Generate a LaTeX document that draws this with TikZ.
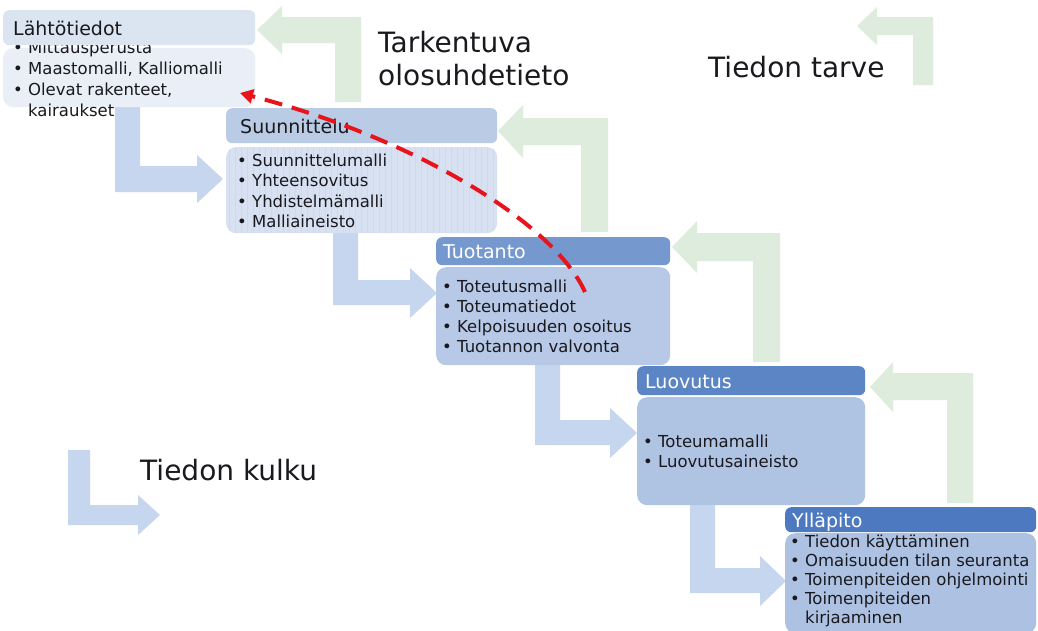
\documentclass[tikz,border=0pt]{standalone}
\usepackage{fontspec}
\setmainfont{DejaVu Sans}
\usetikzlibrary{arrows.meta}
\definecolor{greenarr}{RGB}{221,236,221}
\definecolor{bluearr}{RGB}{198,214,238}
\definecolor{hA}{RGB}{219,228,241}
\definecolor{bA}{RGB}{234,239,247}
\definecolor{hB}{RGB}{186,203,229}
\definecolor{bB}{RGB}{215,225,241}
\definecolor{stripeB}{RGB}{205,217,236}
\definecolor{hC}{RGB}{117,153,206}
\definecolor{bC}{RGB}{183,201,230}
\definecolor{hD}{RGB}{91,133,196}
\definecolor{bD}{RGB}{175,195,227}
\definecolor{hE}{RGB}{76,121,191}
\definecolor{bE}{RGB}{173,194,227}
\definecolor{txtdark}{RGB}{25,25,30}
\definecolor{redline}{RGB}{232,20,28}
\begin{document}
\begin{tikzpicture}[x=1pt,y=-1pt,
  garrow/.style={fill=greenarr,draw=none},
  barrow/.style={fill=bluearr,draw=none},
  hbox/.style={draw=none,rounded corners=6pt,anchor=north west,inner sep=0pt},
  bbox/.style={draw=none,rounded corners=10pt,anchor=north west,inner sep=0pt},
  htxt/.style={anchor=base west,inner sep=0pt,font=\fontsize{19}{22}\selectfont},
  btxt/.style={anchor=base west,inner sep=0pt,text=txtdark,font=\fontsize{16.5}{20}\selectfont},
  bigtxt/.style={anchor=base west,inner sep=0pt,text=txtdark,font=\fontsize{28}{32}\selectfont},
  reddash/.style={draw=redline,line width=4pt,dash pattern=on 18pt off 10pt,-{Triangle[length=13pt,width=14pt]}}
]
\useasboundingbox (0,0) rectangle (1038,630);
\fill[white] (0,0) rectangle (1038,630);

% green arrows (Tiedon tarve)
\fill[garrow] (257,30) -- (282,6) -- (282,17) -- (361,17) -- (361,102) -- (335,102) -- (335,43) -- (282,43) -- (282,54) -- cycle;
\fill[garrow] (498,131) -- (523,105) -- (523,118) -- (608,118) -- (608,232) -- (581,232) -- (581,145) -- (523,145) -- (523,158) -- cycle;
\fill[garrow] (672,247) -- (697,221) -- (697,233) -- (780,233) -- (780,362) -- (753,362) -- (753,261) -- (697,261) -- (697,273) -- cycle;
\fill[garrow] (870,387) -- (893,362) -- (893,373) -- (973,373) -- (973,503) -- (947,503) -- (947,400) -- (893,400) -- (893,412) -- cycle;
\fill[garrow] (857,26) -- (877,7) -- (877,17) -- (933,17) -- (933,85) -- (913,85) -- (913,35) -- (877,35) -- (877,45) -- cycle;

% blue arrows (Tiedon kulku)
\fill[barrow] (115,100) -- (140,100) -- (140,166) -- (197,166) -- (197,155) -- (223,179) -- (197,203) -- (197,192) -- (115,192) -- cycle;
\fill[barrow] (333,230) -- (358,230) -- (358,280) -- (410,280) -- (410,268) -- (437,293) -- (410,318) -- (410,305) -- (333,305) -- cycle;
\fill[barrow] (535,360) -- (560,360) -- (560,420) -- (610,420) -- (610,408) -- (637,433) -- (610,458) -- (610,445) -- (535,445) -- cycle;
\fill[barrow] (690,500) -- (715,500) -- (715,568) -- (760,568) -- (760,556) -- (786,581) -- (760,606) -- (760,593) -- (690,593) -- cycle;
\fill[barrow] (68,450) -- (90,450) -- (90,505) -- (138,505) -- (138,495) -- (160,515) -- (138,535) -- (138,525) -- (68,525) -- cycle;

% Lahtotiedot
\node[bbox,fill=bA,minimum width=252pt,minimum height=59pt] (bA) at (3,48) {};
\node[btxt] (a1) at (13,53) {• Mittausperusta};
\node[btxt] (a2) at (13,74) {• Maastomalli, Kalliomalli};
\node[btxt] (a3) at (13,95) {• Olevat rakenteet,};
\node[btxt] (a4) at (28,116) {kairaukset};
\node[hbox,fill=hA,minimum width=252pt,minimum height=35pt] (hA) at (3,10) {};
\node[htxt,text=txtdark] (ah) at (13,35) {Lähtötiedot};

% Suunnittelu
\node[bbox,fill=bB,minimum width=271pt,minimum height=86pt] (bB) at (226,147) {};
\begin{scope}
\clip[rounded corners=10pt] (226,147) rectangle (497,233);
\foreach \i in {0,...,45} \draw[stripeB,line width=0.6pt] (229+\i*6,147) -- (229+\i*6,233);
\end{scope}
\node[hbox,fill=hB,minimum width=271pt,minimum height=35pt] (hB) at (226,108) {};
\node[htxt,text=txtdark] (bh) at (240,133) {Suunnittelu};
\node[btxt] (b1) at (237,166) {• Suunnittelumalli};
\node[btxt] (b2) at (237,186) {• Yhteensovitus};
\node[btxt] (b3) at (237,207) {• Yhdistelmämalli};
\node[btxt] (b4) at (237,227) {• Malliaineisto};

% Tuotanto
\node[bbox,fill=bC,minimum width=234pt,minimum height=98pt] (bC) at (436,267) {};
\node[hbox,fill=hC,minimum width=234pt,minimum height=28pt] (hC) at (436,237) {};
\node[htxt,text=white] (ch) at (443,258) {Tuotanto};
\node[btxt] (c1) at (442,292) {• Toteutusmalli};
\node[btxt] (c2) at (442,312) {• Toteumatiedot};
\node[btxt] (c3) at (442,332) {• Kelpoisuuden osoitus};
\node[btxt] (c4) at (442,352) {• Tuotannon valvonta};

% Luovutus
\node[bbox,fill=bD,minimum width=228pt,minimum height=108pt] (bD) at (637,397) {};
\node[hbox,fill=hD,minimum width=228pt,minimum height=29pt] (hD) at (637,366) {};
\node[htxt,text=white] (dh) at (645,388) {Luovutus};
\node[btxt] (d1) at (643,447) {• Toteumamalli};
\node[btxt] (d2) at (643,467) {• Luovutusaineisto};

% Yllapito
\node[bbox,fill=bE,minimum width=251pt,minimum height=100pt] (bE) at (785,533) {};
\node[hbox,fill=hE,minimum width=251pt,minimum height=25pt] (hE) at (785,507) {};
\node[htxt,text=white] (eh) at (792,527) {Ylläpito};
\node[btxt] (e1) at (790,547) {• Tiedon käyttäminen};
\node[btxt] (e2) at (790,566) {• Omaisuuden tilan seuranta};
\node[btxt] (e3) at (790,585) {• Toimenpiteiden ohjelmointi};
\node[btxt] (e4) at (790,604) {• Toimenpiteiden};
\node[btxt] (e5) at (805,623) {kirjaaminen};

% big labels
\node[bigtxt] (tark) at (378,52) {Tarkentuva};
\node[bigtxt] (olos) at (378,85) {olosuhdetieto};
\node[bigtxt] (tarve) at (708,77) {Tiedon tarve};
\node[bigtxt] (kulku) at (140,480) {Tiedon kulku};

% red dashed curve
\coordinate (rs) at (585,292);
\coordinate (re) at (240,93);
\draw[reddash] (rs) .. controls (555,225) and (420,140) .. (re);
\end{tikzpicture}
\end{document}
